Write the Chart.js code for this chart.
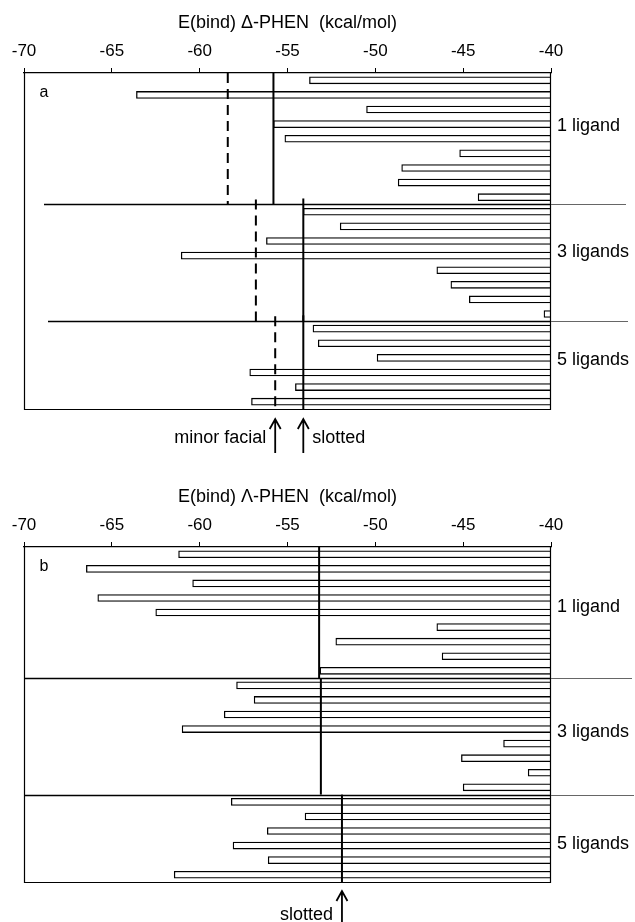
<!DOCTYPE html>
<html>
<head>
<meta charset="utf-8">
<title>E(bind) PHEN</title>
<script src="https://cdn.jsdelivr.net/npm/chart.js@4.4.0/dist/chart.umd.min.js"></script>
<style>
  html, body { margin: 0; padding: 0; background: #fff; }
  body { width: 635px; height: 922px; position: relative; overflow: hidden; }
  .panel { position: absolute; left: 0; }
  #panelA { top: 0; }
  #panelB { top: 474px; }
  canvas { display: block; }
</style>
</head>
<body>
<div class="panel" id="panelA"><canvas id="chartA" width="635" height="460"></canvas></div>
<div class="panel" id="panelB"><canvas id="chartB" width="635" height="448"></canvas></div>
<script>
// eixo de energia (kcal/mol)
const xMin = -70;
const xMax = -40;
const tickValues = [-70, -65, -60, -55, -50, -45, -40];
const groupNames = ['1 ligand', '3 ligands', '5 ligands'];

// painel a: Δ-PHEN
const deltaOne = [-53.75, -63.6, -50.5, -55.8, -55.15, -45.2, -48.5, -48.7, -44.15];
const deltaThree = [-54.1, -52.0, -56.2, -61.05, -46.5, -45.7, -44.65, -40.4];
const deltaFive = [-53.55, -53.25, -49.9, -57.15, -54.55, -57.05];
const deltaSlotted = [-55.8, -54.1, -54.1];
const deltaMinorFacial = [-58.4, -56.8, -55.7];

// painel b: Λ-PHEN
const lambdaOne = [-61.2, -66.45, -60.4, -65.8, -62.5, -46.5, -52.25, -46.2, -53.15];
const lambdaThree = [-57.9, -56.9, -58.6, -61.0, -42.7, -45.1, -41.3, -45.0];
const lambdaFive = [-58.2, -54.0, -56.15, -58.1, -56.1, -61.45];
const lambdaSlotted = [-53.2, -53.1, -51.9];

const FONT = "'Liberation Sans', Arial, Helvetica, sans-serif";

// desenha moldura, separadores, linhas verticais, rótulos e setas
const decorPlugin = {
    id: 'panelDecor',
    afterDatasetsDraw(chart, args, o) {
        const { ctx, chartArea: ca, scales: { x, y } } = chart;
        const edge = k => y.getPixelForValue(k - 0.5);
        const starts = [];
        let acc = 0;
        o.sizes.forEach(s => { starts.push(acc); acc += s; });

        ctx.save();
        ctx.strokeStyle = '#000';
        ctx.lineWidth = 1.2;

        // moldura (o topo é a própria linha do eixo)
        ctx.beginPath();
        ctx.moveTo(ca.left + 0.5, ca.top);
        ctx.lineTo(ca.left + 0.5, ca.bottom + 0.5);
        ctx.lineTo(ca.right - 0.5, ca.bottom + 0.5);
        ctx.lineTo(ca.right - 0.5, ca.top);
        ctx.stroke();

        // separadores entre grupos
        starts.slice(1).forEach((k, i) => {
            const py = Math.round(edge(k)) + 0.5;
            ctx.strokeStyle = '#000';
            ctx.lineWidth = 1.4;
            ctx.beginPath();
            ctx.moveTo(o.sepStart[i], py);
            ctx.lineTo(ca.right, py);
            ctx.stroke();
            ctx.strokeStyle = '#666';
            ctx.lineWidth = 1;
            ctx.beginPath();
            ctx.moveTo(ca.right, py);
            ctx.lineTo(o.sepEnd[i], py);
            ctx.stroke();
        });

        // linhas verticais por grupo
        o.lines.forEach(line => {
            ctx.strokeStyle = '#000';
            ctx.lineWidth = line.width;
            ctx.setLineDash(line.dash || []);
            line.values.forEach((v, g) => {
                const px = x.getPixelForValue(v);
                const y0 = edge(starts[g]) - (g > 0 ? line.overhang : 0);
                const y1 = edge(starts[g] + o.sizes[g]);
                ctx.beginPath();
                ctx.moveTo(px, y0);
                ctx.lineTo(px, y1);
                ctx.stroke();
            });
        });
        ctx.setLineDash([]);

        // rótulos à direita
        ctx.fillStyle = '#000';
        ctx.font = '18px ' + FONT;
        ctx.textAlign = 'left';
        ctx.textBaseline = 'middle';
        groupNames.forEach((name, g) => {
            ctx.fillText(name, ca.right + 6, y.getPixelForValue(o.labelAt[g]));
        });

        // letra do painel
        ctx.font = '16px ' + FONT;
        ctx.textAlign = 'center';
        ctx.fillText(o.letter, ca.left + 20, ca.top + 20);

        // setas
        ctx.lineWidth = 1.8;
        ctx.font = '18px ' + FONT;
        o.arrows.forEach(a => {
            const px = x.getPixelForValue(a.value);
            const tip = ca.bottom + o.arrowTop;
            ctx.beginPath();
            ctx.moveTo(px, tip);
            ctx.lineTo(px, ca.bottom + o.arrowBottom);
            ctx.moveTo(px - 5.5, tip + 10);
            ctx.lineTo(px, tip);
            ctx.lineTo(px + 5.5, tip + 10);
            ctx.stroke();
            ctx.textAlign = a.side === 'left' ? 'right' : 'left';
            ctx.fillText(a.label, px + (a.side === 'left' ? -9 : 9), ca.bottom + o.textDy);
        });
        ctx.restore();
    }
};

function buildChart(canvasId, groups, cfg) {
    const labels = [];
    const bars = [];
    groups.forEach((vals, g) => {
        vals.forEach((v, i) => {
            labels.push(groupNames[g] + ' #' + (i + 1));
            bars.push([v, xMax]);
        });
    });

    return new Chart(document.getElementById(canvasId), {
        type: 'bar',
        data: {
            labels: labels,
            datasets: [{
                data: bars,
                backgroundColor: '#fff',
                borderColor: '#000',
                borderWidth: 1.3,
                borderSkipped: false,
                barThickness: 7
            }]
        },
        options: {
            indexAxis: 'y',
            responsive: false,
            animation: false,
            devicePixelRatio: 1,
            layout: { padding: { left: 24, right: 84, top: 0, bottom: cfg.bottomPad } },
            plugins: {
                legend: { display: false },
                tooltip: { enabled: false },
                panelDecor: {
                    sizes: groups.map(g => g.length),
                    sepStart: cfg.sepStart,
                    sepEnd: cfg.sepEnd,
                    lines: cfg.lines,
                    labelAt: cfg.labelAt,
                    letter: cfg.letter,
                    arrows: cfg.arrows,
                    arrowTop: cfg.arrowTop,
                    arrowBottom: cfg.arrowBottom,
                    textDy: cfg.textDy
                }
            },
            scales: {
                x: {
                    type: 'linear',
                    position: 'top',
                    min: xMin,
                    max: xMax,
                    afterBuildTicks: s => { s.ticks = tickValues.map(v => ({ value: v })); },
                    afterFit: s => { s.height = 73; },
                    ticks: { color: '#000', font: { family: FONT, size: 17 }, padding: 6, maxRotation: 0 },
                    grid: { drawOnChartArea: false, drawTicks: true, tickLength: 5, color: '#000', lineWidth: 1 },
                    border: { display: true, color: '#000', width: 1.2 },
                    title: {
                        display: true,
                        text: cfg.title,
                        color: '#000',
                        font: { family: FONT, size: 18 },
                        padding: { top: 12, bottom: 0 }
                    }
                },
                y: { display: false }
            }
        },
        plugins: [decorPlugin]
    });
}

buildChart('chartA', [deltaOne, deltaThree, deltaFive], {
    title: 'E(bind) \u0394-PHEN  (kcal/mol)',
    bottomPad: 51,
    sepStart: [44, 48],
    sepEnd: [626, 628],
    lines: [
        { values: deltaMinorFacial, width: 2, dash: [10, 6], overhang: 5 },
        { values: deltaSlotted, width: 2, overhang: 6 }
    ],
    labelAt: [3.1, 11.75, 19.15],
    letter: 'a',
    arrows: [
        { value: deltaMinorFacial[2], label: 'minor facial', side: 'left' },
        { value: deltaSlotted[2], label: 'slotted', side: 'right' }
    ],
    arrowTop: 10,
    arrowBottom: 44,
    textDy: 29
});

buildChart('chartB', [lambdaOne, lambdaThree, lambdaFive], {
    title: 'E(bind) \u039B-PHEN  (kcal/mol)',
    bottomPad: 40,
    sepStart: [24, 24],
    sepEnd: [632, 634],
    lines: [
        { values: lambdaSlotted, width: 2, overhang: 0 }
    ],
    labelAt: [3.6, 12.2, 19.9],
    letter: 'b',
    arrows: [
        { value: lambdaSlotted[2], label: 'slotted', side: 'left' }
    ],
    arrowTop: 9,
    arrowBottom: 40,
    textDy: 33
});
</script>
</body>
</html>
